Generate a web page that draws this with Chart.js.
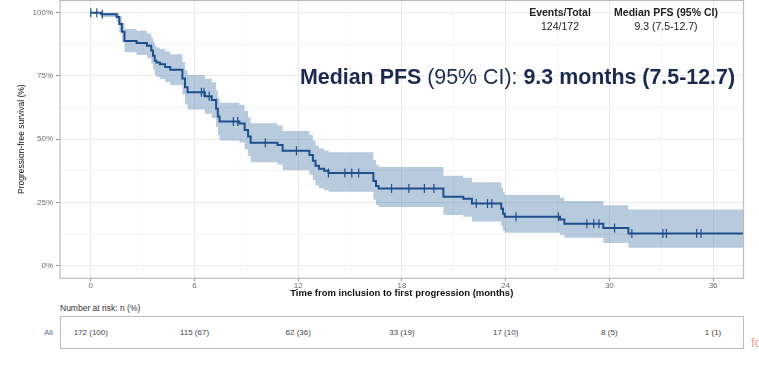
<!DOCTYPE html>
<html lang="en">
<head>
  <meta charset="UTF-8">
  <title>Progression-free survival</title>
  <script src="https://cdn.jsdelivr.net/npm/chart.js"></script>
  <style>
    html, body { margin: 0; padding: 0; background: #fff; }
    body {
      width: 759px; height: 365px; position: relative; overflow: hidden;
      font-family: 'Liberation Sans', Arial, sans-serif;
    }
    #km { position: absolute; left: 0; top: 0; }
    .summary { position: absolute; font-size: 10.5px; color: #222; white-space: nowrap; transform: translateX(-50%); }
    .summary.head { top: 6px; font-weight: bold; }
    .summary.val { top: 20px; }
    .median { position: absolute; left: 300px; top: 65px; font-size: 21.4px; color: #1c2a4f; white-space: nowrap; }
    .risk-title { position: absolute; left: 60px; top: 303px; font-size: 8.5px; color: #333; }
    .risk-box { position: absolute; left: 60px; top: 316px; width: 684px; height: 33px; border: 1.3px solid #bdbdbd; box-sizing: border-box; }
    .risk-val { position: absolute; top: 328px; font-size: 8px; color: #444; transform: translateX(-50%); white-space: nowrap; }
    .risk-group { position: absolute; left: 44px; top: 328px; font-size: 8px; color: #4a6f9c; }
    .fo { position: absolute; left: 751px; top: 335px; font-size: 13px; color: #eea08a; }
  </style>
</head>
<body>
  <canvas id="km" width="759" height="302"></canvas>

  <div class="summary head" style="left:560px">Events/Total</div>
  <div class="summary head" style="left:666px">Median PFS (95% CI)</div>
  <div class="summary val" style="left:560px">124/172</div>
  <div class="summary val" style="left:666px">9.3 (7.5-12.7)</div>

  <div class="median"><b>Median PFS</b> (95% CI): <b>9.3 months (7.5-12.7)</b></div>

  <div class="risk-title">Number at risk: n (%)</div>
  <div class="risk-box"></div>
  <div class="risk-group">All</div>
  <div id="risk"></div>
  <div class="fo">fo</div>

  <script>
    // Kaplan-Meier steps (months, %)
    const months   = [0, 0.6, 1.5, 1.65, 1.8, 1.95, 2.65, 3.25, 3.5, 3.6, 3.7, 3.8, 4.0, 4.3, 4.6, 5.3, 5.45, 5.6, 6.6, 7.0, 7.25, 7.35, 7.45, 8.6, 8.9, 9.1, 9.25, 10.8, 11.1, 12.65, 12.85, 13.0, 13.2, 13.5, 13.75, 16.35, 16.5, 16.65, 20.4, 21.55, 22.05, 23.75, 23.85, 23.95, 27.15, 27.4, 29.65, 31.1, 37.76];
    const survival = [100, 99.4, 98.3, 95.5, 92.5, 88.8, 88.0, 86.9, 85.0, 83.0, 81.0, 80.3, 79.6, 78.5, 77.4, 74.0, 70.5, 68.5, 67.0, 65.5, 62.0, 59.0, 57.0, 56.2, 53.6, 51.0, 48.6, 47.7, 45.4, 43.7, 41.5, 39.5, 38.3, 37.5, 36.6, 33.5, 31.5, 30.5, 27.2, 26.4, 24.6, 22.5, 20.5, 19.3, 18.2, 16.6, 14.9, 12.7, 12.7];
    const upper95  = [100, 100, 100, 98.5, 96.0, 93.5, 92.8, 91.8, 90.3, 88.6, 86.9, 86.2, 85.6, 84.6, 83.6, 80.5, 77.2, 75.4, 73.9, 72.5, 69.2, 66.3, 64.4, 63.6, 61.1, 58.6, 56.3, 55.4, 53.2, 51.6, 49.5, 47.5, 46.3, 45.5, 44.8, 41.8, 39.9, 39.0, 35.5, 34.7, 33.0, 30.9, 29.0, 27.9, 26.8, 25.6, 23.9, 22.2, 22.2];
    const lower95  = [100, 98.3, 96.5, 92.4, 88.5, 84.3, 83.3, 82.0, 79.8, 77.6, 75.4, 74.6, 73.8, 72.6, 71.3, 67.6, 63.8, 61.7, 60.0, 58.4, 54.7, 51.6, 49.5, 48.7, 46.0, 43.3, 40.9, 40.0, 37.7, 35.9, 33.8, 31.8, 30.6, 29.8, 29.2, 26.0, 24.0, 23.2, 20.0, 19.3, 17.5, 15.5, 13.8, 13.0, 12.1, 11.0, 9.0, 7.1, 7.1];
    const censorTimes = [0, 0.35, 0.67, 6.4, 6.55, 6.85, 8.25, 8.5, 10.1, 11.9, 13.75, 14.7, 15.1, 15.5, 17.4, 18.4, 19.3, 19.85, 22.3, 22.95, 23.2, 24.6, 27.05, 28.7, 29.1, 29.4, 30.3, 31.3, 33.1, 33.3, 35.05, 35.3];

    const xTicks = [0, 3, 6, 9, 12, 15, 18, 21, 24, 27, 30, 33, 36];
    const yTicks = [0, 12.5, 25, 37.5, 50, 62.5, 75, 87.5, 100];
    const riskTimes  = [0, 6, 12, 18, 24, 30, 36];
    const riskLabels = ['172 (100)', '115 (67)', '62 (36)', '33 (19)', '17 (10)', '8 (5)', '1 (1)'];

    const lineColor = '#1f4f8a';
    const bandColor = 'rgba(51, 102, 160, 0.35)';

    const toPoints = (xs, ys) => xs.map((x, i) => ({ x, y: ys[i] }));
    function survivalAt(t) {
      let s = survival[0];
      months.forEach((m, i) => { if (m <= t) s = survival[i]; });
      return s;
    }

    const isMajorX = v => v % 6 === 0;
    const isMajorY = v => v % 25 === 0;

    // panel border like ggplot
    const panelBorder = {
      id: 'panelBorder',
      afterDraw(chart) {
        const { ctx, chartArea: a } = chart;
        ctx.save();
        ctx.strokeStyle = '#bcbcbc';
        ctx.lineWidth = 1.2;
        ctx.strokeRect(a.left, a.top + 0.5, a.right - a.left, a.bottom - a.top - 0.5);
        ctx.restore();
      }
    };

    const chart = new Chart(document.getElementById('km'), {
      type: 'line',
      data: {
        datasets: [
          { data: toPoints(months, upper95), stepped: true, borderWidth: 0, pointRadius: 0,
            backgroundColor: bandColor, fill: '+1', order: 3 },
          { data: toPoints(months, lower95), stepped: true, borderWidth: 0, pointRadius: 0,
            fill: false, order: 2 },
          { data: toPoints(months, survival), stepped: true, borderColor: lineColor, borderWidth: 2,
            pointRadius: 0, fill: false, order: 1 },
          { type: 'scatter', data: censorTimes.map(t => ({ x: t, y: survivalAt(t) })),
            pointStyle: 'line', rotation: 90, radius: 4.5, borderColor: lineColor,
            borderWidth: 1.2, order: 0 }
        ]
      },
      options: {
        responsive: false,
        animation: false,
        devicePixelRatio: 1,
        layout: { autoPadding: false, padding: { left: 0, top: 0, right: 15.5, bottom: 0 } },
        plugins: {
          legend: { display: false },
          tooltip: { enabled: false },
          filler: { drawTime: 'beforeDatasetsDraw' }
        },
        scales: {
          x: {
            type: 'linear', min: -1.78, max: 37.76,
            afterBuildTicks: s => { s.ticks = xTicks.map(v => ({ value: v })); },
            afterFit: s => { s.height = 302 - 278.3; s.paddingLeft = 0; s.paddingRight = 0; },
            ticks: {
              autoSkip: false, maxRotation: 0, padding: 0,
              color: '#6b6b6b', font: { size: 8, family: 'Liberation Sans' },
              callback: v => isMajorX(v) ? String(v) : ''
            },
            grid: {
              tickLength: 3,
              color: c => isMajorX(c.tick.value) ? '#ebebeb' : '#f5f5f5',
              tickColor: c => isMajorX(c.tick.value) ? '#9a9a9a' : 'rgba(0,0,0,0)'
            },
            border: { display: false },
            title: {
              display: true, text: 'Time from inclusion to first progression (months)',
              color: '#111', font: { size: 9.5, weight: 'bold', family: 'Liberation Sans' },
              padding: { top: 0, bottom: 3 }
            }
          },
          y: {
            min: -5, max: 105,
            afterBuildTicks: s => { s.ticks = yTicks.map(v => ({ value: v })); },
            afterFit: s => { s.width = 60; s.paddingTop = 0; s.paddingBottom = 0; },
            ticks: {
              padding: 3, color: '#6b6b6b', font: { size: 8, family: 'Liberation Sans' },
              callback: v => isMajorY(v) ? v + '%' : ''
            },
            grid: {
              tickLength: 4,
              color: c => isMajorY(c.tick.value) ? '#ebebeb' : '#f5f5f5',
              tickColor: c => isMajorY(c.tick.value) ? '#9a9a9a' : 'rgba(0,0,0,0)'
            },
            border: { display: false },
            title: {
              display: true, text: 'Progression-free survival (%)',
              color: '#111', font: { size: 8.5, family: 'Liberation Sans' },
              padding: { top: 17, bottom: 0 }
            }
          }
        }
      },
      plugins: [panelBorder]
    });

    // number-at-risk row, placed through the chart's x scale
    const risk = document.getElementById('risk');
    riskTimes.forEach((t, i) => {
      const d = document.createElement('div');
      d.className = 'risk-val';
      d.style.left = chart.scales.x.getPixelForValue(t) + 'px';
      d.textContent = riskLabels[i];
      risk.appendChild(d);
    });
  </script>
</body>
</html>
